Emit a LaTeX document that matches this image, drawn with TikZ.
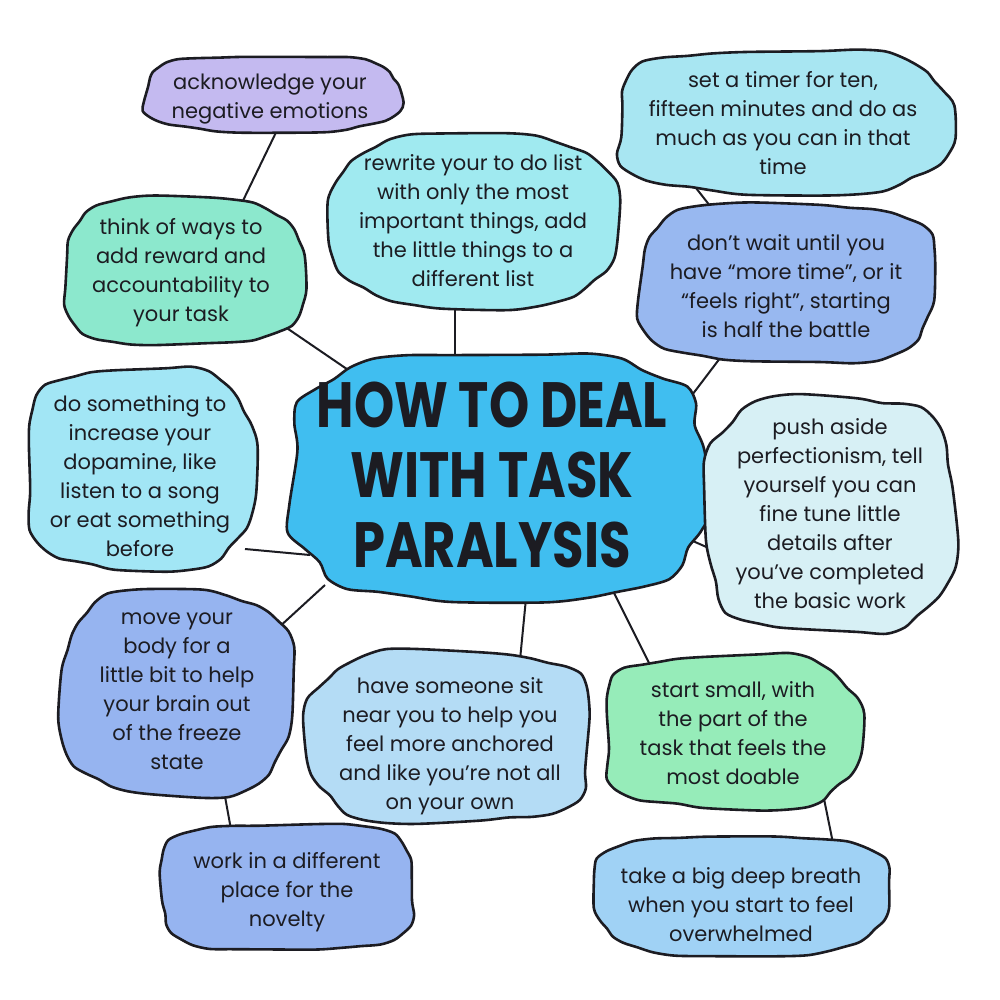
\documentclass[tikz,border=0pt]{standalone}
\usepackage{fontspec}
\setmainfont{Poppins}
\usetikzlibrary{calc}
\pgfdeclarelayer{bg}
\pgfdeclarelayer{blobs}
\pgfsetlayers{bg,blobs,main}
\definecolor{ink}{RGB}{28,28,34}
\definecolor{cAck}{RGB}{196,186,240}
\definecolor{cTimer}{RGB}{168,230,242}
\definecolor{cRewrite}{RGB}{160,234,240}
\definecolor{cThink}{RGB}{140,232,205}
\definecolor{cWait}{RGB}{152,184,240}
\definecolor{cTitle}{RGB}{64,190,240}
\definecolor{cDosom}{RGB}{162,230,245}
\definecolor{cPush}{RGB}{215,240,245}
\definecolor{cMove}{RGB}{150,180,240}
\definecolor{cHave}{RGB}{180,220,245}
\definecolor{cStart}{RGB}{150,236,185}
\definecolor{cWork}{RGB}{150,180,240}
\definecolor{cBreath}{RGB}{160,210,245}
\tikzset{
  txt/.style={align=center, font=\fontsize{21}{29}\selectfont, text=ink, inner sep=0pt},
  conn/.style={line width=2pt, draw=ink},
  blobline/.style={draw=ink, line width=2.6pt, line join=round}
}
% cx cy rx ry colour amp freq phase
\newcommand\myblob[8]{%
  \filldraw[blobline, fill=#5] plot[smooth cycle, domain=5:355, samples=36, variable=\t]
   ({#1+#3*(1+#6*sin(#7*\t+#8)+0.01*sin(11*\t+2*#8))*cos(\t)/(abs(cos(\t))^0.38)},
    {#2+#4*(1+#6*sin(#7*\t+#8)+0.01*sin(11*\t+2*#8))*sin(\t)/(abs(sin(\t))^0.38)});
}
\begin{document}
\begin{tikzpicture}[x=1pt,y=-1pt]
\useasboundingbox (0,0) rectangle (1000,1000);
\begin{pgfonlayer}{bg}
\fill[white] (0,0) rectangle (1000,1000);
\end{pgfonlayer}

% text nodes
\node[txt] (ack) at (270,99) {acknowledge your\\negative emotions};
\node[txt] (timer) at (783,123) {set a timer for ten,\\fifteen minutes and do as\\much as you can in that\\time};
\node[txt] (rewrite) at (473,221) {rewrite your to do list\\with only the most\\important things, add\\the little things to a\\different list};
\node[txt] (think) at (181,273) {think of ways to\\add reward and\\accountability to\\your task};
\node[txt] (wait) at (786,286) {don't wait until you\\have ``more time'', or it\\``feels right'', starting\\is half the battle};
\node[text=ink, inner sep=0pt] (title) at (492,483) {\scalebox{0.8}[1]{\fontsize{64}{70}\selectfont\bfseries\begin{tabular}{@{}c@{}}HOW TO DEAL\\WITH TASK\\PARALYSIS\end{tabular}}};
\node[txt] (dosom) at (140,476) {do something to\\increase your\\dopamine, like\\listen to a song\\or eat something\\before};
\node[txt] (push) at (830,514) {push aside\\perfectionism, tell\\yourself you can\\fine tune little\\details after\\you've completed\\the basic work};
\node[txt] (move) at (177,691) {move your\\body for a\\little bit to help\\your brain out\\of the freeze\\state};
\node[txt] (have) at (450,746) {have someone sit\\near you to help you\\feel more anchored\\and like you're not all\\on your own};
\node[txt] (start) at (733,733) {start small, with\\the part of the\\task that feels the\\most doable};
\node[txt] (work) at (287,892) {work in a different\\place for the\\novelty};
\node[txt] (breath) at (741,905) {take a big deep breath\\when you start to feel\\overwhelmed};

% blobs
\begin{pgfonlayer}{blobs}
\myblob{272}{94}{128}{38}{cAck}{0.03}{5}{20}
\myblob{783}{122}{167}{72}{cTimer}{0.035}{5}{60}
\myblob{474}{221}{142}{86}{cRewrite}{0.03}{4}{110}
\myblob{183}{272}{120}{74}{cThink}{0.03}{3}{40}
\myblob{787}{283}{149}{80}{cWait}{0.03}{4}{200}
\myblob{498}{477}{208}{124}{cTitle}{0.025}{9}{30}
\myblob{140}{469}{114}{101}{cDosom}{0.03}{5}{80}
\myblob{830}{514}{125}{118}{cPush}{0.03}{6}{10}
\myblob{177}{693}{115}{102}{cMove}{0.035}{4}{150}
\myblob{450}{737}{142}{86}{cHave}{0.035}{5}{250}
\myblob{731}{732}{128}{77}{cStart}{0.04}{5}{90}
\myblob{287}{887}{129}{64}{cWork}{0.03}{4}{300}
\myblob{741}{895}{148}{60}{cBreath}{0.03}{3}{170}
\end{pgfonlayer}

% connectors
\begin{pgfonlayer}{bg}
\draw[conn] ($(ack)+(12,21)$) -- ($(think)+(57,-62)$);
\draw[conn] ($(think)+(94,47)$) -- ($(title)+(-132,-105)$);
\draw[conn] ($(rewrite)+(-18,67)$) -- ($(title)+(-37,-115)$);
\draw[conn] ($(timer)+(-98,51)$) -- ($(wait)+(-61,-61)$);
\draw[conn] ($(wait)+(-56,59)$) -- ($(title)+(194,-80)$);
\draw[conn] ($(dosom)+(105,73)$) -- ($(title)+(-182,72)$);
\draw[conn] ($(push)+(-110,39)$) -- ($(title)+(194,55)$);
\draw[conn] ($(move)+(88,-51)$) -- ($(title)+(-167,102)$);
\draw[conn] ($(move)+(45,89)$) -- ($(work)+(-55,-57)$);
\draw[conn] ($(have)+(70,-86)$) -- ($(title)+(35,105)$);
\draw[conn] ($(start)+(-83,-68)$) -- ($(title)+(122,110)$);
\draw[conn] ($(start)+(89,56)$) -- ($(breath)+(94,-52)$);
\end{pgfonlayer}
\end{tikzpicture}
\end{document}
